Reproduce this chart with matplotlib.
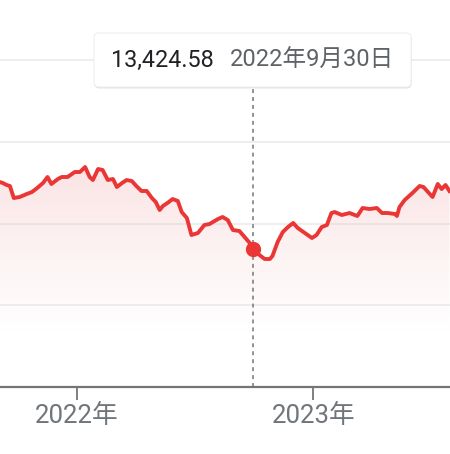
import numpy as np
import pandas as pd
import matplotlib
matplotlib.use("Agg")
import matplotlib.pyplot as plt
import matplotlib.dates as mdates
from matplotlib.patches import FancyBboxPatch

plt.rcParams['font.family'] = ['Roboto', 'Noto Sans CJK JP', 'DejaVu Sans']

# weekly closes
fechas = [
    "2021-09-04", "2021-09-09", "2021-09-15", "2021-09-20", "2021-09-26", "2021-10-05",
    "2021-10-16", "2021-10-24", "2021-11-01", "2021-11-10", "2021-11-17", "2021-11-23",
    "2021-12-03", "2021-12-09", "2021-12-18", "2021-12-29",
    "2022-01-06", "2022-01-14", "2022-01-21", "2022-01-26", "2022-02-03", "2022-02-10",
    "2022-02-18", "2022-02-26", "2022-03-04", "2022-03-12", "2022-03-19", "2022-03-27",
    "2022-04-03", "2022-04-11", "2022-04-19", "2022-04-27", "2022-05-03", "2022-05-09",
    "2022-05-14", "2022-05-21", "2022-05-29", "2022-06-06", "2022-06-12", "2022-06-20",
    "2022-06-27", "2022-07-07", "2022-07-17", "2022-07-25", "2022-08-07", "2022-08-14",
    "2022-08-22", "2022-08-30", "2022-09-09", "2022-09-17", "2022-09-25", "2022-09-30",
    "2022-10-10", "2022-10-18", "2022-10-26", "2022-10-30", "2022-11-07", "2022-11-15",
    "2022-11-23", "2022-12-01", "2022-12-08", "2022-12-19", "2022-12-30",
    "2023-01-06", "2023-01-14", "2023-01-22", "2023-01-29", "2023-02-03", "2023-02-14",
    "2023-02-26", "2023-03-10", "2023-03-18", "2023-03-29", "2023-04-09", "2023-04-17",
    "2023-04-26", "2023-05-07", "2023-05-10", "2023-05-14", "2023-05-22", "2023-06-03",
    "2023-06-14", "2023-06-20", "2023-07-04", "2023-07-12", "2023-07-18", "2023-07-24",
    "2023-07-30",
]
valores = [
    17540, 17477, 17355, 17294, 16560, 16620,
    16805, 16926, 17170, 17477, 17844, 17416,
    17722, 17844, 17844, 18150,
    18150, 18456, 17844, 17660, 18333, 18272,
    17660, 17722, 17232, 17477, 17660, 17600,
    17294, 16988, 16988, 16560, 16315, 15826,
    16070, 16254, 16498, 16376, 15703, 15336,
    14297, 14419, 14908, 14970, 15275, 15398,
    15214, 14602, 14541, 14174, 13807, 13424.58,
    13073, 12829, 12829, 13012, 13869, 14480,
    14786, 15031, 14725, 14419, 14113,
    14297, 14786, 14908, 15642, 15703, 15520,
    15642, 15459, 15948, 15887, 15948, 15642,
    15642, 15581, 15459, 16009, 16437, 16866,
    17294, 17232, 16620, 17416, 17110, 17355,
    16988,
]
etiquetas_x = ["2022年", "2023年"]
ticks_x = ["2022-01-01", "2023-01-01"]
grid_y = [10000, 15000, 20000, 25000]
sel_fecha = "2022-09-30"
sel_valor = 13424.58
sel_texto = "2022年9月30日"

x = mdates.date2num(pd.to_datetime(fechas))
y = np.array(valores)
rojo = "#eb3636"

fig = plt.figure(figsize=(4.5, 4.54), dpi=100)
ax = fig.add_axes([0, 67 / 454, 1, 387 / 454])

inicio = mdates.date2num(pd.Timestamp("2022-01-01")) - 118.3
fin = mdates.date2num(pd.Timestamp("2022-01-01")) + 575.9
ymin, ymax = 5000, 28670
ax.set_xlim(inicio, fin)
ax.set_ylim(ymin, ymax)

for g in grid_y:
    ax.axhline(g, color="#c8c8c8", alpha=0.3, lw=1.4, zorder=2)

# gradient fill under line, fading to white
grad = np.linspace(0, 1, 256).reshape(-1, 1)
cmap = matplotlib.colors.LinearSegmentedColormap.from_list(
    "g", ["#ffffff", "#fdf2f2", "#fbe4e5"])
img = ax.imshow(grad, aspect="auto", cmap=cmap, origin="lower",
                extent=[inicio, fin, 8500, y.max()], zorder=1)
poly = ax.fill_between(x, y, ymin, color="none", lw=0)
img.set_clip_path(poly.get_paths()[0], transform=ax.transData)
ax.set_xlim(inicio, fin)
ax.set_ylim(ymin, ymax)

ax.plot(x, y, color=rojo, lw=2.8, zorder=3)

xs = mdates.date2num(pd.Timestamp(sel_fecha))
ax.plot([xs, xs], [ymin, 25400], color="#8a8a8a", lw=1.3,
        ls=(0, (2.2, 2.2)), zorder=2)
ax.plot(xs, sel_valor, "o", color=rojo, ms=10, zorder=4)

for s in ["top", "right", "left"]:
    ax.spines[s].set_visible(False)
ax.spines["bottom"].set_color("#757575")
ax.spines["bottom"].set_linewidth(1.6)
ax.spines["bottom"].set_zorder(5)
ax.set_yticks([])
ax.set_xticks(mdates.date2num(pd.to_datetime(ticks_x)))
ax.set_xticklabels(etiquetas_x, fontsize=18.5, color="#70757a")
ax.tick_params(axis="x", length=9, width=1.3, color="#757575", pad=3)

# tooltip
sombra = FancyBboxPatch((94.5 / 450, 1 - 88.5 / 454), 317 / 450, 54 / 454,
                        boxstyle="round,pad=0,rounding_size=0.01",
                        transform=fig.transFigure, fc="#cfcfcf", ec="none",
                        alpha=0.5, zorder=5)
caja = FancyBboxPatch((94 / 450, 1 - 87 / 454), 317 / 450, 54 / 454,
                      boxstyle="round,pad=0,rounding_size=0.01",
                      transform=fig.transFigure, fc="white", ec="#e6e6e6",
                      lw=0.5, zorder=6)
fig.patches.extend([sombra, caja])
fig.text(111 / 450, 1 - 60 / 454, f"{sel_valor:,.2f}", fontsize=16.8,
         color="#202124", va="center", ha="left", zorder=7)
fig.text(230 / 450, 1 - 60 / 454, sel_texto, fontsize=17,
         color="#5f6368", va="center", ha="left", zorder=7)

fig.savefig("out.png", dpi=100)
